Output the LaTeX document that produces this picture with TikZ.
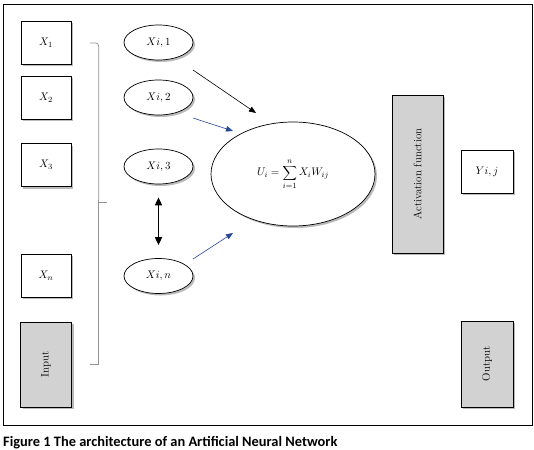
\documentclass[tikz,border=0pt]{standalone}
\usepackage{fontspec}
\newfontfamily\capfont{Carlito}
\usepackage{tikz}
\usetikzlibrary{arrows.meta,shapes.geometric,shadows}
\colorlet{boxgray}{gray!35}
\colorlet{bracegray}{gray!85}
\definecolor{linkblue}{RGB}{40,70,150}
\tikzset{
  boxshadow/.style={drop shadow={shadow xshift=2pt,shadow yshift=-2pt,fill=black!60,opacity=0.45}},
  inbox/.style={draw,fill=white,line width=0.8pt,minimum width=50pt,minimum height=43pt,inner sep=0pt,boxshadow},
  graybox/.style={draw,fill=boxgray,line width=0.8pt,minimum width=51pt,inner sep=0pt,boxshadow},
  unit/.style={ellipse,draw,fill=white,line width=0.7pt,minimum width=69pt,minimum height=35pt,inner sep=0pt,boxshadow}
}

\begin{document}
\begin{tikzpicture}[x=1pt,y=-1pt,>={Triangle[length=7pt,width=5.5pt]},font=\fontsize{11}{13}\selectfont]
\useasboundingbox (0,0) rectangle (534,449);
\draw[line width=0.9pt] (3,4) rectangle (532,425);
% ---- input column ----
\node[inbox] (x1) at (46,42.5) {$X_1$};
\node[inbox] (x2) at (46,97.5) {$X_2$};
\node[inbox] (x3) at (46,165) {$X_3$};
\node[inbox] (xn) at (46,275.5) {$X_n$};
\node[graybox,minimum height=85pt] (input) at (46,364.5) {\rotatebox{90}{Input}};
% bracket grouping the inputs
\draw[bracegray,line width=0.7pt,rounded corners=3pt] (90,43) -- (98.7,43) -- (98.7,200);
\draw[bracegray,line width=0.7pt] (98.7,200) -- (98.7,364) -- (90,364);
\draw[bracegray,line width=0.7pt] (98.7,202) -- (107,202);
% ---- weighted inputs ----
\node[unit] (xi1) at (158.5,42.5) {$Xi, 1$};
\node[unit] (xi2) at (158.5,97.5) {$Xi, 2$};
\node[unit] (xi3) at (158.5,166.5) {$Xi, 3$};
\node[unit] (xin) at (158.5,276) {$Xi, n$};
\draw[<->,line width=1.6pt,shorten <=13pt,shorten >=13pt,
  >={Triangle[length=8pt,width=7pt]}] (xi3) -- (xin);
% ---- summation ----
\node[unit,minimum width=164pt,minimum height=104pt] (sum) at (293,174)
  {$\displaystyle U_i=\sum_{i=1}^{n}X_iW_{ij}$};
\coordinate (s1) at (193,70);  \coordinate (t1) at (256,113);
\coordinate (s2) at (193,118); \coordinate (t2) at (233,131);
\coordinate (s3) at (193,259); \coordinate (t3) at (233,233);
\draw[->,line width=0.6pt] (s1) -- (t1);
\draw[->,linkblue,line width=0.6pt] (s2) -- (t2);
\draw[->,linkblue,line width=0.6pt] (s3) -- (t3);
% ---- activation and output ----
\node[graybox,minimum height=158pt] (act) at (417.5,174) {\rotatebox{90}{Activation function}};
\node[inbox,minimum width=52pt] (yij) at (487,171.5) {$Yi, j$};
\node[graybox,minimum width=52pt,minimum height=86pt] (output) at (487,364) {\rotatebox{90}{Output}};
\node[anchor=base west,inner sep=0pt,font=\capfont\bfseries\fontsize{14.4}{16}\selectfont] (cap) at (3,446)
  {Figure 1 The architecture of an Artificial Neural Network};
\end{tikzpicture}
\end{document}
